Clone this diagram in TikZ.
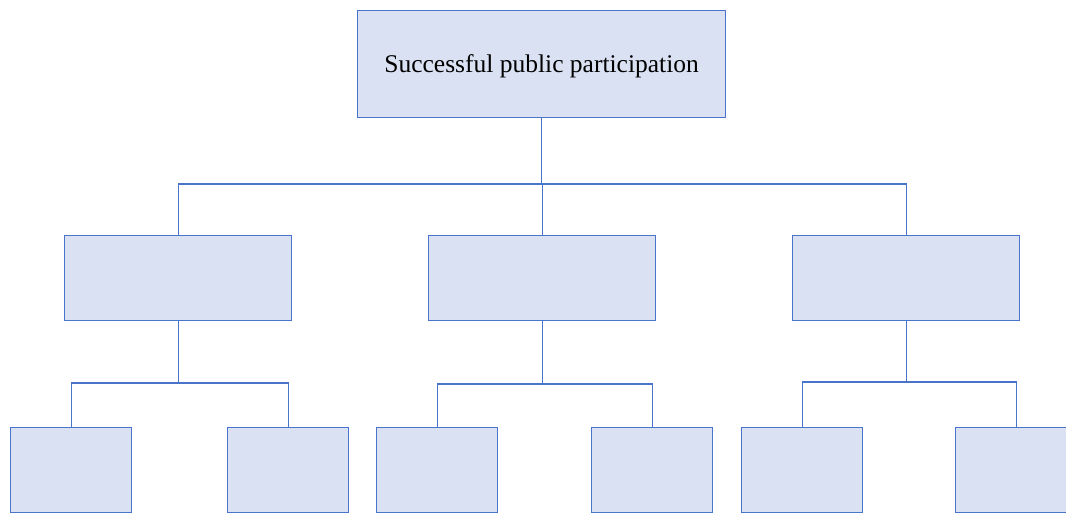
\documentclass[tikz,border=0pt]{standalone}
\usepackage{fontspec}
\setmainfont{Liberation Serif}
\definecolor{boxfill}{HTML}{DAE1F3}
\definecolor{boxline}{HTML}{4A74C9}
\begin{document}
\begin{tikzpicture}[x=1pt,y=-1pt,
  box/.style={draw=boxline,fill=boxfill,line width=1.2pt,inner sep=0pt,anchor=north west},
  link/.style={draw=boxline,line width=1.2pt}]
\useasboundingbox (0,0) rectangle (1066,513);
\clip (0,0) rectangle (1066,513);
% root
\node[box,minimum width=368pt,minimum height=107pt] (root) at (357,10) {};
\node[font=\fontsize{25.5}{30}\selectfont] (title) at ([yshift=-2pt]root.center) {Successful public participation};
% second level
\foreach \n/\x in {a/64,b/428,c/792}
  \node[box,minimum width=227pt,minimum height=85pt] (\n) at (\x,235) {};
% third level
\foreach \n/\x in {a1/10,a2/227,b1/376,b2/591,c1/741,c2/955}
  \node[box,minimum width=121pt,minimum height=85pt] (\n) at (\x,427) {};
% connectors
\coordinate (hub) at (541,184);
\draw[link] (root.south) -- (root.south |- hub);
\draw[link] (a.north) -- (a.north |- hub) -- (c.north |- hub) -- (c.north);
\draw[link] (b.north |- hub) -- (b.north);
\foreach \p/\l/\r/\y in {a/a1/a2/383,b/b1/b2/384,c/c1/c2/382}{
  \draw[link] (\p.south) -- (\p.south |- 0,\y);
  \draw[link] (\l.north) -- (\l.north |- 0,\y) -- (\r.north |- 0,\y) -- (\r.north);
}
\end{tikzpicture}
\end{document}
